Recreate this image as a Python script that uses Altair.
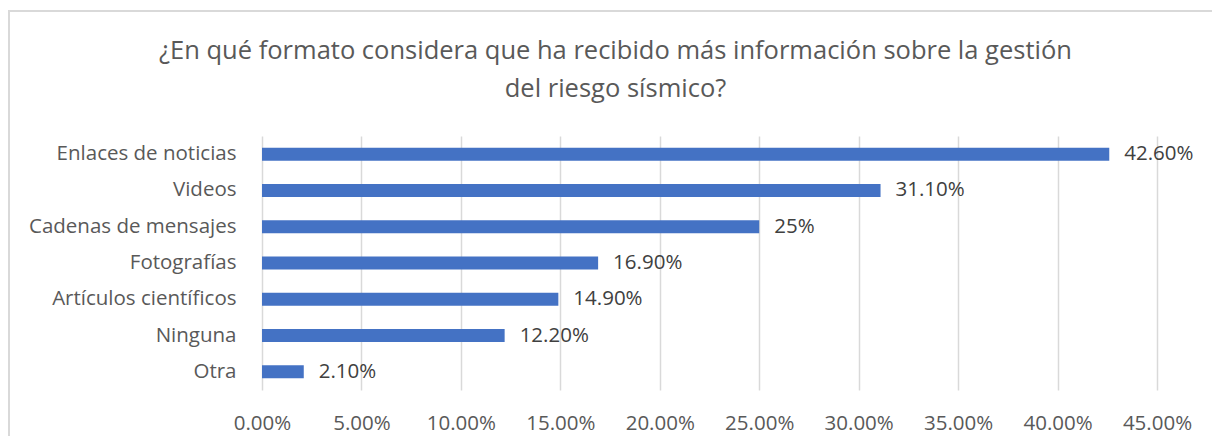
import altair as alt
import pandas as pd

categories = ["Enlaces de noticias", "Videos", "Cadenas de mensajes ", "Fotografías",
              "Artículos científicos ", "Ninguna", "Otra"]
values = [0.426, 0.311, 0.25, 0.169, 0.149, 0.122, 0.021]
value_labels = ["42.60%", "31.10%", "25%", "16.90%", "14.90%", "12.20%", "2.10%"]
x_ticks = [0, 0.05, 0.10, 0.15, 0.20, 0.25, 0.30, 0.35, 0.40, 0.45]
title_lines = ["¿En qué formato considera que ha recibido más información sobre la gestión",
               "del riesgo sísmico?"]

df = pd.DataFrame({"cat": categories, "val": values, "lab": value_labels})

FONT = "Open Sans"

x_enc = alt.X("val:Q", scale=alt.Scale(domain=[0, 0.45], nice=False),
              axis=alt.Axis(values=x_ticks, format=".2%", title=None, grid=True,
                            gridColor="#d9d9d9", gridWidth=1.5, domain=False, ticks=False,
                            labelFont=FONT, labelFontSize=20.5, labelColor="#595959",
                            labelPadding=23, labelFlush=False))
y_enc = alt.Y("cat:N", sort=categories,
              axis=alt.Axis(title=None, domain=False, ticks=False, grid=False,
                            labelFont=FONT, labelFontSize=20.5, labelColor="#595959",
                            labelPadding=26, labelLimit=400))

border = alt.Chart(df).mark_rect(fillOpacity=0, stroke="#d9d9d9", strokeWidth=1.5, clip=False).encode(
    x=alt.value(-253), x2=alt.value(1000), y=alt.value(-125), y2=alt.value(400)
)

bars = alt.Chart(df).mark_bar(color="#4472C4", size=13).encode(x=x_enc, y=y_enc)

text = alt.Chart(df).mark_text(align="left", dx=15, font=FONT, fontSize=20.5,
                               color="#404040").encode(
    x="val:Q", y=alt.Y("cat:N", sort=categories), text="lab:N")

chart = alt.layer(border, bars, text).properties(
    width=895, height=254,
    background="white",
    autosize=alt.AutoSizeParams(type="none"),
    padding={"left": 254, "top": 128, "right": 55, "bottom": 46},
    title=alt.TitleParams(title_lines, anchor="middle", dx=-94, offset=-92,
                          font=FONT, fontSize=25.5, fontWeight="normal",
                          color="#595959", lineHeight=38),
).configure_view(strokeOpacity=0, strokeWidth=0)

chart.save("out.html", embed_options={"renderer": "svg", "actions": False})
